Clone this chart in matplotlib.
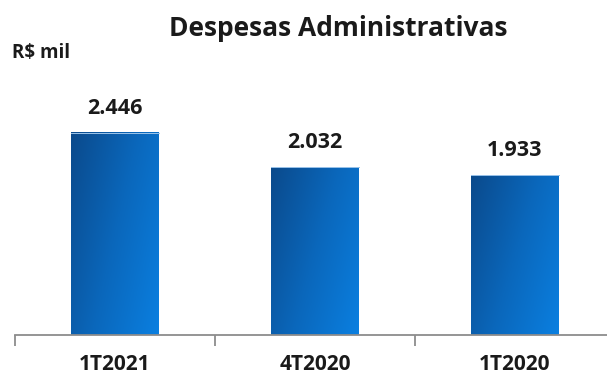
import matplotlib.pyplot as plt
import numpy as np
from matplotlib.colors import LinearSegmentedColormap

categories = ['1T2021', '4T2020', '1T2020']
values = [2446, 2032, 1933]
value_labels = ['2.446', '2.032', '1.933']

plt.rcParams['font.family'] = ['Open Sans', 'DejaVu Sans']

fig = plt.figure(figsize=(6.07, 3.78), dpi=100)
ax = fig.add_axes([15 / 607, 43 / 378, 600 / 607, 248 / 378])

cmap = LinearSegmentedColormap.from_list('blu', ['#0b4a8c', '#0a67bb', '#0b7fe0'])
gx, gy = np.meshgrid(np.linspace(0, 1, 60), np.linspace(0, 1, 100))
grad = 0.65 * gx + 0.35 * gy  # top-left dark, bottom-right light

width = 0.44
x = np.arange(len(categories))
for i, v in enumerate(values):
    ax.imshow(grad, cmap=cmap, extent=(x[i] - width / 2, x[i] + width / 2, 0, v),
              origin='upper', aspect='auto', zorder=2)
    ax.plot([x[i] - width / 2, x[i] + width / 2], [v, v], color='#9cc4ea', lw=0.7, zorder=3)
    ax.text(x[i], v + 170, value_labels[i], ha='center', va='bottom',
            fontsize=15.5, fontweight='bold', color='#1a1a1a')

ax.set_xlim(-0.5, 2.5)
ax.set_ylim(0, 3000)

for s in ['top', 'right', 'left']:
    ax.spines[s].set_visible(False)
ax.spines['bottom'].set_color('#8c8c8c')
ax.spines['bottom'].set_linewidth(1.3)
ax.set_yticks([])

ax.set_xticks(x)
ax.set_xticklabels(categories, fontsize=15, fontweight='bold', color='#1a1a1a')
ax.tick_params(axis='x', which='major', length=0, pad=14)
ax.set_xticks([-0.5, 0.5, 1.5, 2.5], minor=True)
ax.tick_params(axis='x', which='minor', length=8, width=1.3, color='#8c8c8c', direction='out')

fig.text(338 / 607, 1 - 28 / 378, 'Despesas Administrativas', ha='center', va='center',
         fontsize=19, fontweight='bold', color='#1a1a1a')
fig.text(12 / 607, 1 - 53 / 378, 'R$ mil', ha='left', va='center',
         fontsize=13.5, fontweight='bold', color='#1a1a1a')

fig.savefig('out.png', dpi=100)
